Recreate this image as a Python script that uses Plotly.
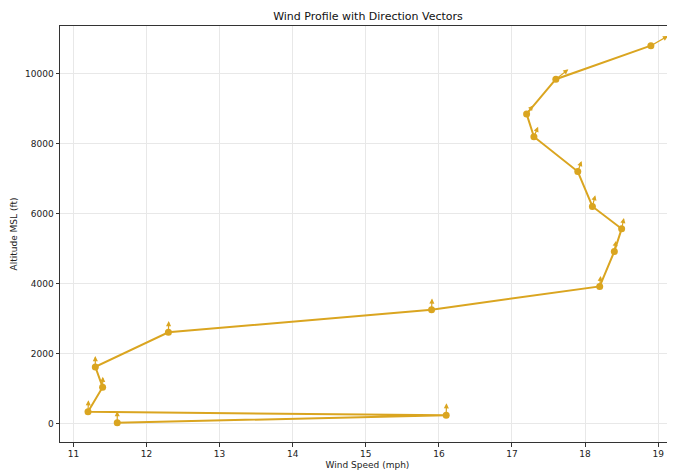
import plotly.graph_objects as go

# Wind profile data
wind_speed_mph = [11.6, 16.1, 11.2, 11.4, 11.3, 12.3, 15.9, 18.2, 18.4, 18.5,
                  18.1, 17.9, 17.3, 17.2, 17.6, 18.9]
altitude_ft = [30, 245, 343, 1045, 1627, 2615, 3263, 3928, 4927, 5575,
               6212, 7211, 8205, 8858, 9849, 10808]
# Direction vector components (east, north), relative units
vec_u = [0.0, 0.3, 0.5, 0.2, 0.0, 0.3, 0.5, 1.0, 1.7, 2.4,
         3.0, 4.0, 4.4, 7.0, 13.0, 17.6]
vec_v = [12.0, 12.5, 12.0, 11.0, 11.3, 11.7, 11.7, 11.0, 11.0, 11.3,
         11.7, 11.0, 10.5, 9.0, 10.3, 10.0]

x_ticks = list(range(11, 20))
y_ticks = list(range(0, 12000, 2000))

COLOR = "#DAA520"
FONT = "DejaVu Sans"
ARROW_SCALE = 1.0  # pixels per vector unit

# page body has an 8px default margin; compensate so the plot lands in place
OFF = 8
W, H = 675, 472

fig = go.Figure()
fig.add_trace(go.Scatter(
    x=wind_speed_mph, y=altitude_ft, mode="lines+markers",
    line=dict(color=COLOR, width=2),
    marker=dict(color=COLOR, size=7),
    showlegend=False, hoverinfo="skip",
))

for xs, ys, u, v in zip(wind_speed_mph, altitude_ft, vec_u, vec_v):
    fig.add_annotation(
        x=xs, y=ys, xref="x", yref="y", text="",
        showarrow=True, axref="pixel", ayref="pixel",
        ax=u * ARROW_SCALE, ay=-v * ARROW_SCALE,
        arrowside="start", startarrowhead=2, startarrowsize=0.85,
        arrowwidth=1.2, arrowcolor=COLOR, standoff=0, startstandoff=0,
        borderpad=0,
    )

fig.update_layout(
    width=W, height=H,
    margin=dict(l=60 - OFF, r=OFF, t=26 - OFF, b=H - 442 + OFF, autoexpand=False),
    paper_bgcolor="white", plot_bgcolor="white",
    font=dict(family=FONT, size=9, color="#222222"),
    title=dict(text="Wind Profile with Direction Vectors",
               font=dict(family=FONT, size=11, color="#111111"),
               x=(368 - OFF) / W, xref="container", xanchor="center",
               y=1 - (16 - OFF) / H, yanchor="middle"),
    xaxis=dict(
        range=[10.817, 19.23], tickvals=x_ticks,
        ticktext=[str(t) for t in x_ticks],
        showgrid=True, gridcolor="#e8e8e8", gridwidth=0.8,
        zeroline=False, showline=True, linecolor="#333333", linewidth=1,
        mirror=True, ticks="outside", ticklen=3.5, tickcolor="#333333",
        tickfont=dict(size=9),
        title=dict(text="Wind Speed (mph)", font=dict(size=9), standoff=3),
    ),
    yaxis=dict(
        range=[-520, 11370], tickvals=y_ticks,
        ticktext=[str(t) for t in y_ticks],
        showgrid=True, gridcolor="#e8e8e8", gridwidth=0.8,
        zeroline=False, showline=True, linecolor="#333333", linewidth=1,
        mirror=False, ticks="outside", ticklen=3.5, tickcolor="#333333",
        tickfont=dict(size=9),
        title=dict(text="Altitude MSL (ft)", font=dict(size=9), standoff=5),
    ),
)

fig.write_html("out.html")
